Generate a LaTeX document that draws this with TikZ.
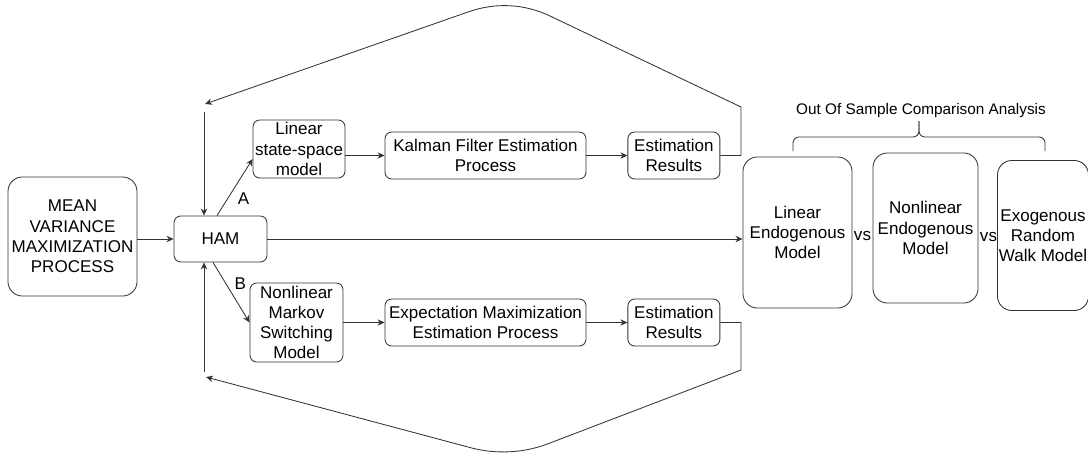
\documentclass[tikz,border=0pt]{standalone}
\usepackage{fontspec}
\setmainfont{Liberation Sans}
\usetikzlibrary{arrows.meta,positioning,calc}
\definecolor{BoxLine}{HTML}{333333}

\begin{document}
\begin{tikzpicture}[
  x=0.025cm, y=-0.025cm,
  font=\fontsize{12.1}{14.4}\selectfont,
  box/.style={draw=BoxLine,rounded corners=0.17cm,fill=white,inner sep=1pt,align=center,line width=0.6pt},
  bigbox/.style={box,rounded corners=0.36cm},
  arrow/.style={-{Stealth[length=5pt,width=4.5pt]},line width=0.6pt,draw=BoxLine},
  brace/.style={line width=0.6pt,draw=BoxLine,rounded corners=0.15cm},
  lbl/.style={inner sep=0pt}
]
  \useasboundingbox (0,0) rectangle (1088,455);

  % left part
  \node[bigbox, minimum width=3.225cm, minimum height=2.975cm] (mvm) at (72.5,236.5) {MEAN\\VARIANCE\\MAXIMIZATION\\PROCESS};
  \node[box, minimum width=2.325cm, minimum height=1.15cm] (ham) at (220.5,239) {HAM};
  \node[box, minimum width=2.3cm, minimum height=1.45cm] (lss) at (299,149) {Linear\\state-space\\model};
  \node[box, minimum width=2.325cm, minimum height=1.975cm] (nms) at (296.5,322.5) {Nonlinear\\Markov\\Switching\\Model};

  % estimation rows
  \node[box, minimum width=5.025cm, minimum height=1.175cm] (kal) at (485.5,155.5) {Kalman Filter Estimation\\Process};
  \node[box, minimum width=2.3cm, minimum height=1.175cm, right=1.025cm of kal] (er1) {Estimation\\Results};
  \node[box, minimum width=5.025cm, minimum height=1.175cm] (em) at (485.5,322.5) {Expectation Maximization\\Estimation Process};
  \node[box, minimum width=2.3cm, minimum height=1.175cm, right=1.025cm of em] (er2) {Estimation\\Results};

  % comparison
  \node[bigbox, minimum width=2.725cm, minimum height=3.775cm] (le) at (797.5,232.5) {Linear\\Endogenous\\Model};
  \node[bigbox, minimum width=2.625cm, minimum height=3.75cm] (ne) at (925.5,228) {Nonlinear\\Endogenous\\Model};
  \node[bigbox, minimum width=2.2cm, minimum height=3.75cm] (ex) at (1043,235.5) {Exogenous\\Random\\Walk Model};
  \node[lbl] (vs1) at (862.5,236) {vs};
  \node[lbl] (vs2) at (988.5,237) {vs};
  \node[lbl, font=\fontsize{10.9}{13}\selectfont] (osca) at (921,111) {Out Of Sample Comparison Analysis};
  \draw[brace] (793,151) |- (919,137) -- (919,121);
  \draw[brace] (1045,151) |- (919,137) -- (919,121);

  % feedback ends
  \coordinate (fbtop) at (205,104);
  \coordinate (vtop) at (204,112);
  \coordinate (fbbot) at (206,377);
  \coordinate (vbot) at (204,372);

  \draw[arrow] (mvm.east |- ham.west) -- (ham.west);
  \draw[arrow] ($(ham.north)+(-3.5,0)$) -- ($(lss.west)+(0,10)$) node[lbl,pos=0.3,right=7pt]{A};
  \draw[arrow] ($(ham.south)+(-7.5,0)$) -- (nms.west) node[lbl,pos=0.35,right=6pt]{B};
  \draw[arrow] (lss.east |- kal.west) -- (kal.west);
  \draw[arrow] (kal) -- (er1);
  \draw[arrow] (nms.east |- em.west) -- (em.west);
  \draw[arrow] (em) -- (er2);
  \draw[arrow] (ham.east) -- (ham.east -| le.west);

  \draw[arrow] (er1.east) -| (741,107) -- (550,16) .. controls (525,4) and (496,2) .. (468,12) -- (fbtop);
  \draw[arrow] (er2.east) -| (741,370) -- (550,443) .. controls (525,453) and (496,455) .. (468,447) -- (fbbot);
  \draw[arrow] (vtop) -- (vtop |- ham.north);
  \draw[arrow] (vbot) -- (vbot |- ham.south);
\end{tikzpicture}
\end{document}
